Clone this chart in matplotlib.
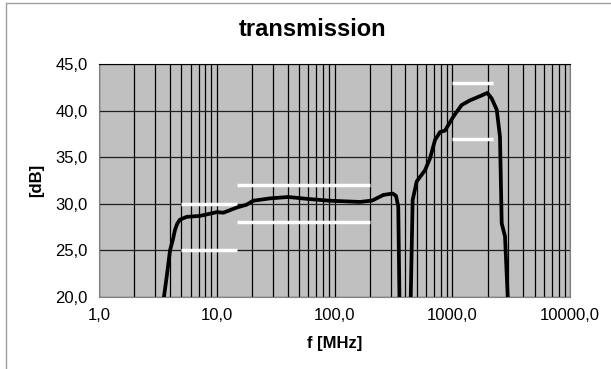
import matplotlib.pyplot as plt
from matplotlib.ticker import FixedLocator, LogLocator, NullFormatter, FuncFormatter
from matplotlib.lines import Line2D

# measured curve: frequency in MHz, transmission in dB
freq_low = [3.56, 3.76, 4.01, 4.23, 4.42, 4.63, 4.87, 5.56, 7.2, 10.0, 11.4, 14.8,
            17.9, 20.4, 28.3, 40.5, 62.0, 91.6, 165.0, 209.0, 260.0, 312.0, 333.0,
            348.0, 356.0]
db_low = [20.0, 22.2, 25.0, 26.1, 27.2, 27.9, 28.3, 28.6, 28.7, 29.1, 29.05, 29.6,
          29.9, 30.33, 30.58, 30.73, 30.5, 30.33, 30.2, 30.35, 30.95, 31.1, 30.85,
          29.7, 20.0]

freq_high = [444, 461, 499, 587, 648, 714, 788, 867, 1021, 1202, 1415, 1721,
             1987, 2163, 2387, 2543, 2630, 2806, 2958]
db_high = [20.0, 30.4, 32.4, 33.6, 34.9, 36.85, 37.7, 37.85, 39.35, 40.6, 41.1,
           41.55, 41.9, 41.3, 40.1, 37.2, 27.9, 26.5, 20.0]

# limit lines (white): (f_start, f_stop, level)
limits = [
    (5, 15, 30.0),
    (5, 15, 25.0),
    (15, 200, 32.0),
    (15, 200, 28.0),
    (1000, 2200, 43.0),
    (1000, 2200, 37.0),
]

x_ticks = [1, 10, 100, 1000, 10000]
y_ticks = [20, 25, 30, 35, 40, 45]

FONT = 'Liberation Sans'


def comma_fmt(v, pos):
    return f'{v:.1f}'.replace('.', ',')


fig = plt.figure(figsize=(6.11, 3.69), dpi=100)
ax = fig.add_axes([99 / 611, 1 - 297 / 369, (570 - 99) / 611, (297 - 64) / 369])
ax.set_facecolor('#c0c0c0')

ax.set_xscale('log')
ax.set_xlim(1, 10000)
ax.set_ylim(20, 45)

ax.xaxis.set_major_locator(FixedLocator(x_ticks))
ax.xaxis.set_minor_locator(LogLocator(base=10, subs=range(2, 10)))
ax.xaxis.set_minor_formatter(NullFormatter())
ax.xaxis.set_major_formatter(FuncFormatter(comma_fmt))
ax.yaxis.set_major_locator(FixedLocator(y_ticks))
ax.yaxis.set_major_formatter(FuncFormatter(comma_fmt))

ax.grid(True, which='both', axis='x', color='black', lw=0.9)
ax.grid(True, which='major', axis='y', color='#202020', lw=0.9)
ax.set_axisbelow(True)
ax.tick_params(which='both', length=0, labelsize=12, pad=8)
for lab in ax.get_xticklabels() + ax.get_yticklabels():
    lab.set_fontfamily(FONT)

for sp in ax.spines.values():
    sp.set_color('#808080')
    sp.set_linewidth(0.8)
ax.spines['top'].set_color('black')

for f0, f1, lvl in limits:
    ax.plot([f0, f1], [lvl, lvl], color='white', lw=2.5, solid_capstyle='butt', zorder=3)

ax.plot(freq_low, db_low, color='black', lw=2.7, zorder=4)
ax.plot(freq_high, db_high, color='black', lw=2.7, zorder=4)

fig.text(313 / 611, 1 - 30 / 369, 'transmission', fontsize=17, fontweight='bold',
         fontfamily=FONT, ha='center', va='center')
ax.set_xlabel('f [MHz]', fontsize=12, fontweight='bold', fontfamily=FONT, labelpad=9)
ax.set_ylabel('[dB]', fontsize=12, fontweight='bold', fontfamily=FONT, labelpad=8)

# chart frame edges visible at left and top
fig.add_artist(Line2D([6 / 611, 6 / 611], [0, 1 - 3 / 369], color='#a0a0a0', lw=1))
fig.add_artist(Line2D([6 / 611, 1], [1 - 3 / 369, 1 - 3 / 369], color='#a0a0a0', lw=1))

fig.savefig('out.png', dpi=100)
